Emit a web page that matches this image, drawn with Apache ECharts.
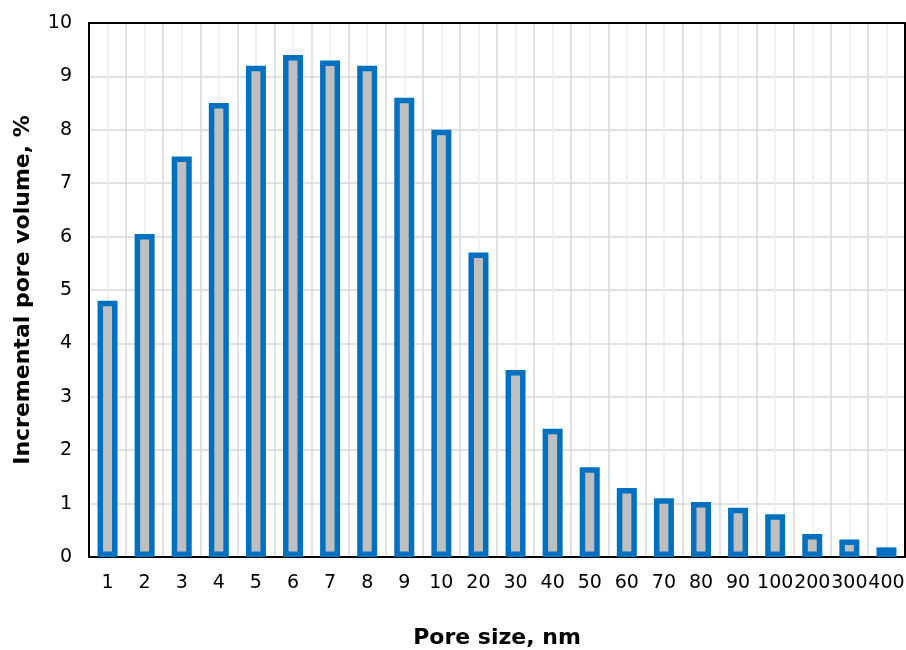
<!DOCTYPE html>
<html><head><meta charset="utf-8">
<script src="https://cdn.jsdelivr.net/npm/echarts@6/dist/echarts.min.js"></script>
<style>html,body{margin:0;padding:0;background:#fff}#c{width:906px;height:650px}</style>
</head><body><div id="c"></div>
<script>
const categories = ['1','2','3','4','5','6','7','8','9','10','20','30','40','50','60','70','80','90','100','200','300','400'];
const values = [4.8,6.05,7.5,8.5,9.2,9.4,9.3,9.2,8.6,8.0,5.7,3.5,2.4,1.68,1.29,1.1,1.03,0.92,0.8,0.43,0.33,0.18];
const yTitle = 'Incremental pore volume, %';
const xTitle = 'Pore size, nm';
const chart = echarts.init(document.getElementById('c'));
const font = 'DejaVu Sans, Arial, sans-serif';
chart.setOption({
  animation:false,
  grid:{left:89,right:1,top:23,bottom:93,containLabel:false,outerBoundsMode:'none'},
  xAxis:[{
    type:'category',data:categories,
    axisLine:{lineStyle:{color:'#000',width:2}},
    axisTick:{show:false},
    axisLabel:{color:'#000',fontSize:19,fontFamily:font,margin:17,interval:0},
    splitLine:{show:false},
    name:xTitle,nameLocation:'middle',nameGap:70,
    nameTextStyle:{color:'#000',fontSize:22,fontWeight:'bold',fontFamily:font}
  },{
    type:'value',min:0,max:44,interval:1,show:true,position:'top',
    axisLine:{show:true,onZero:false,lineStyle:{color:'#000',width:2}},axisTick:{show:false},axisLabel:{show:false},
    splitLine:{show:true,lineStyle:{color:['#d9d9d9','#eeeeee'],width:1.5}}
  }],
  yAxis:[{
    type:'value',min:0,max:10,interval:1,
    axisLine:{show:true,lineStyle:{color:'#000',width:2}},
    axisTick:{show:false},
    axisLabel:{color:'#000',fontSize:19,fontFamily:font,margin:17},
    splitLine:{lineStyle:{color:'#d9d9d9',width:1.5}},
    name:yTitle,nameLocation:'middle',nameGap:55,
    nameTextStyle:{color:'#000',fontSize:22,fontWeight:'bold',fontFamily:font}
  },{
    type:'value',min:0,max:10,interval:1,position:'right',
    axisLine:{show:true,onZero:false,lineStyle:{color:'#000',width:2}},
    axisTick:{show:false},axisLabel:{show:false},splitLine:{show:false}
  }],
  series:[{
    type:'bar',data:values,barWidth:20,xAxisIndex:0,yAxisIndex:0,
    itemStyle:{color:'#bfbfbf',borderColor:'#0070c0',borderWidth:5.5}
  }]
});
</script></body></html>
